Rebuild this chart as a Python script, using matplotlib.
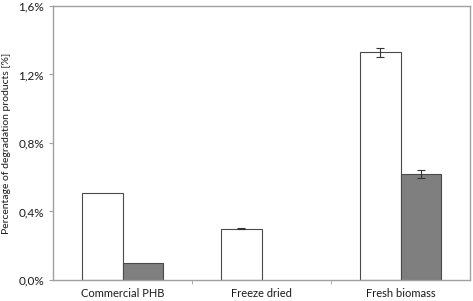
import numpy as np
import matplotlib
matplotlib.use('Agg')
import matplotlib.pyplot as plt
from matplotlib.ticker import FuncFormatter, FixedLocator

plt.rcParams['font.family'] = ['Lato', 'DejaVu Sans']

categories = ["Commercial PHB", "Freeze dried", "Fresh biomass"]
white_vals = [0.51, 0.30, 1.33]
white_err = [0.0, 0.004, 0.027]
gray_vals = [0.10, 0.0, 0.62]
gray_err = [0.0, 0.0, 0.022]
yticks = [0.0, 0.4, 0.8, 1.2, 1.6]

fig = plt.figure(figsize=(4.73, 3.01), dpi=100)
ax = fig.add_axes([0.112, 0.070, 0.882, 0.910])

x = np.arange(len(categories))
w = 0.29
edge = '#4a4a4a'
ax.bar(x - w / 2, white_vals, w, color='white', edgecolor=edge, linewidth=0.8, zorder=2)
# zero-height bars get no outline (nothing visible in the original)
lw_gray = [0.8 if v > 0 else 0 for v in gray_vals]
ax.bar(x + w / 2, gray_vals, w, color='#7f7f7f', edgecolor=edge, linewidth=lw_gray, zorder=2)
for i in range(len(x)):
    if white_err[i] > 0:
        ax.errorbar(x[i] - w / 2, white_vals[i], yerr=white_err[i], fmt='none',
                    ecolor='#333333', elinewidth=0.8, capsize=3, capthick=0.8, zorder=3)
    if gray_err[i] > 0:
        ax.errorbar(x[i] + w / 2, gray_vals[i], yerr=gray_err[i], fmt='none',
                    ecolor='#333333', elinewidth=0.8, capsize=3, capthick=0.8, zorder=3)

ax.set_xlim(-0.5, len(categories) - 0.5)
ax.set_ylim(0, 1.6)
ax.set_yticks(yticks)
ax.yaxis.set_major_formatter(FuncFormatter(lambda v, p: f"{v:.1f}%".replace('.', ',')))
ax.set_xticks(x)
ax.set_xticklabels(categories)
ax.xaxis.set_minor_locator(FixedLocator([0.5, 1.5]))
ax.tick_params(axis='x', which='major', length=0, pad=6, labelsize=8, colors='#1a1a1a')
ax.tick_params(axis='x', which='minor', length=3, color='#a0a0a0')
ax.tick_params(axis='y', length=3, color='#a0a0a0', labelsize=8.5, labelcolor='#1a1a1a')
for s in ax.spines.values():
    s.set_color('#a0a0a0')
    s.set_linewidth(1.0)
ax.set_ylabel("Percentage of degradation products [%]", fontsize=7.5, color='#1a1a1a', labelpad=5)

fig.savefig("out.png", dpi=100)
